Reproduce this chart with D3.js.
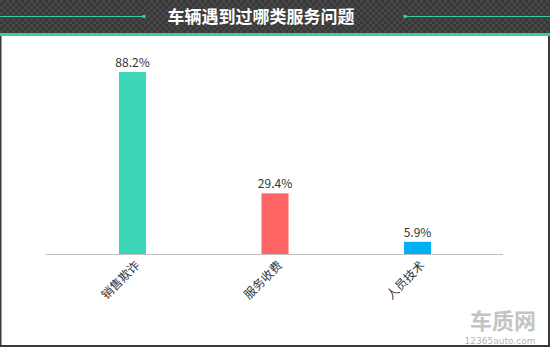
<!DOCTYPE html>
<html><head><meta charset="utf-8">
<script src="https://cdn.jsdelivr.net/npm/d3@7"></script>
<style>html,body{margin:0;padding:0;background:#fff;}svg{display:block;}</style>
</head><body>
<svg id="c" width="550" height="347"></svg>
<script>
const categories = ["销售欺诈", "服务收费", "人员技术"];
const values = [88.2, 29.4, 5.9];
const valueLabels = ["88.2%", "29.4%", "5.9%"];
const colors = ["#3dd6b8", "#ff6666", "#00b0f0"];
const title = "车辆遇到过哪类服务问题";

const svg = d3.select("#c");
const W = 550, H = 347;
const font = "'Noto Sans CJK SC','Microsoft YaHei',sans-serif";

const defs = svg.append("defs");
const pat = defs.append("pattern").attr("id","chk").attr("width",6).attr("height",6).attr("patternUnits","userSpaceOnUse");
pat.append("rect").attr("width",6).attr("height",6).attr("fill","#383838");
pat.append("rect").attr("width",3).attr("height",3).attr("fill","#474747");
pat.append("rect").attr("x",3).attr("y",3).attr("width",3).attr("height",3).attr("fill","#474747");

svg.append("rect").attr("width",W).attr("height",H).attr("fill","#fff");
svg.append("rect").attr("x",0.5).attr("y",0.5).attr("width",W-1.5).attr("height",H-1.5).attr("fill","none").attr("stroke","#3a3a3a").attr("stroke-width",2);
svg.append("rect").attr("x",0).attr("y",0).attr("width",W).attr("height",33).attr("fill","url(#chk)");
svg.append("rect").attr("x",0).attr("y",33).attr("width",W).attr("height",3).attr("fill","#3cc9a9");
svg.append("line").attr("x1",0).attr("x2",144).attr("y1",16.5).attr("y2",16.5).attr("stroke","#3cc9a9").attr("stroke-width",1);
svg.append("rect").attr("x",142.5).attr("y",15).attr("width",3).attr("height",3).attr("fill","#3cc9a9");
svg.append("line").attr("x1",405).attr("x2",W).attr("y1",16.5).attr("y2",16.5).attr("stroke","#3cc9a9").attr("stroke-width",1);
svg.append("rect").attr("x",403.5).attr("y",15).attr("width",3).attr("height",3).attr("fill","#3cc9a9");
svg.append("text").attr("x",261).attr("y",23).attr("text-anchor","middle")
  .attr("font-family",font).attr("font-weight","bold").attr("font-size",17).attr("fill","#fff").text(title);

const x = d3.scaleBand().domain(categories).range([61.25, 488.75]).paddingInner(0.81).paddingOuter(0.405);
const y = d3.scaleLinear().domain([0, 100]).range([254, 47.7]);

const axisG = svg.append("g").attr("transform","translate(0,254)");
axisG.call(d3.axisBottom(x).tickSize(0).tickSizeOuter(0));
axisG.select(".domain").remove();
axisG.append("line").attr("x1",46).attr("x2",503).attr("y1",0.5).attr("y2",0.5).attr("stroke","#bfbfbf");
axisG.selectAll(".tick text")
  .attr("font-family",font).attr("font-size",12).attr("fill","#333")
  .attr("text-anchor","end").attr("dy",0).attr("y",0)
  .attr("transform","translate(8,12) rotate(-45)");

svg.selectAll(".bar").data(categories).enter().append("rect")
  .attr("x", d => x(d)).attr("width", x.bandwidth())
  .attr("y", (d,i) => y(values[i])).attr("height", (d,i) => y(0) - y(values[i]))
  .attr("fill", (d,i) => colors[i]);
svg.selectAll(".vl").data(categories).enter().append("text")
  .attr("x", d => x(d) + x.bandwidth()/2).attr("y", (d,i) => y(values[i]) - 5)
  .attr("text-anchor","middle").attr("font-family",font).attr("font-size",12).attr("fill","#333")
  .text((d,i) => valueLabels[i]);

svg.append("text").attr("x",503).attr("y",329).attr("text-anchor","middle")
  .attr("font-family",font).attr("font-weight","bold").attr("font-size",22).attr("fill","#c4c4c4").text("车质网");
svg.append("text").attr("x",500).attr("y",344).attr("text-anchor","middle")
  .attr("font-family","'DejaVu Sans',sans-serif").attr("font-size",9).attr("fill","#b5b5b5").text("12365auto.com");
</script>
</body></html>
